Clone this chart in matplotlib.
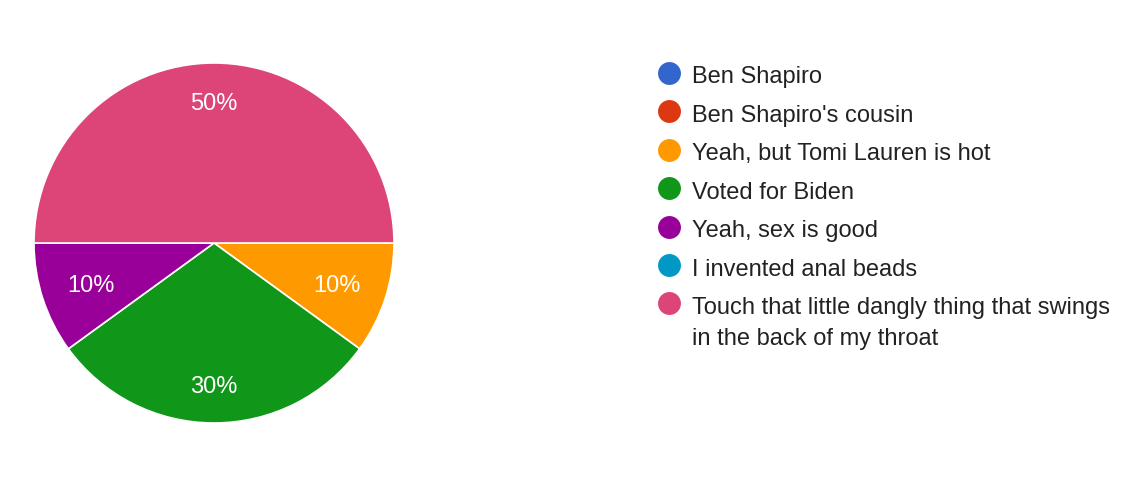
import matplotlib
matplotlib.use("Agg")
import matplotlib.pyplot as plt
import numpy as np

plt.rcParams['font.family'] = ['Liberation Sans', 'DejaVu Sans']

categories = ["Ben Shapiro", "Ben Shapiro's cousin", "Yeah, but Tomi Lauren is hot",
              "Voted for Biden", "Yeah, sex is good", "I invented anal beads",
              "Touch that little dangly thing that swings\nin the back of my throat"]
values = [0, 0, 10, 30, 10, 0, 50]
colors = ["#3366cc", "#dc3912", "#ff9900", "#109618", "#990099", "#0099c6", "#dd4477"]

fig = plt.figure(figsize=(11.26, 4.8), dpi=100)
W, H = 1126, 480
cx, cy, r = 214, 243, 180
ax = fig.add_axes([(cx - r) / W, (H - cy - r) / H, 2 * r / W, 2 * r / H])

total = sum(values)
def fmt(p):
    return f"{p:.0f}%" if p > 0.5 else ""

wedges, texts, autotexts = ax.pie(values, colors=colors, startangle=0, counterclock=False,
                                  autopct=fmt, pctdistance=0.78, radius=1,
                                  wedgeprops=dict(edgecolor='white', linewidth=1.2),
                                  textprops=dict(color='white', fontsize=17))
# label placement: small slices closer to the centre, all nudged slightly down
for w, t, v in zip(wedges, autotexts, values):
    if v <= 0:
        continue
    ang = np.deg2rad((w.theta1 + w.theta2) / 2)
    d = 0.72 if v / total <= 0.1 else 0.785
    t.set_position((d * np.cos(ang), d * np.sin(ang) - 0.015))
ax.set_xlim(-1, 1)
ax.set_ylim(-1, 1)
ax.set_aspect('equal')
ax.axis('off')

# legend
lax = fig.add_axes([0, 0, 1, 1])
lax.set_xlim(0, W)
lax.set_ylim(H, 0)
lax.axis('off')
y0, dy = 73, 38.4
for i, (lab, c) in enumerate(zip(categories, colors)):
    y = y0 + i * dy
    lax.plot([669], [y], 'o', color=c, markersize=16.5, markeredgewidth=0)
    for k, line in enumerate(lab.split('\n')):
        lax.text(692, y + 10.5 + k * 31, line, fontsize=17, color='#222222',
                 va='baseline', ha='left')

fig.savefig("out.png", dpi=100)
